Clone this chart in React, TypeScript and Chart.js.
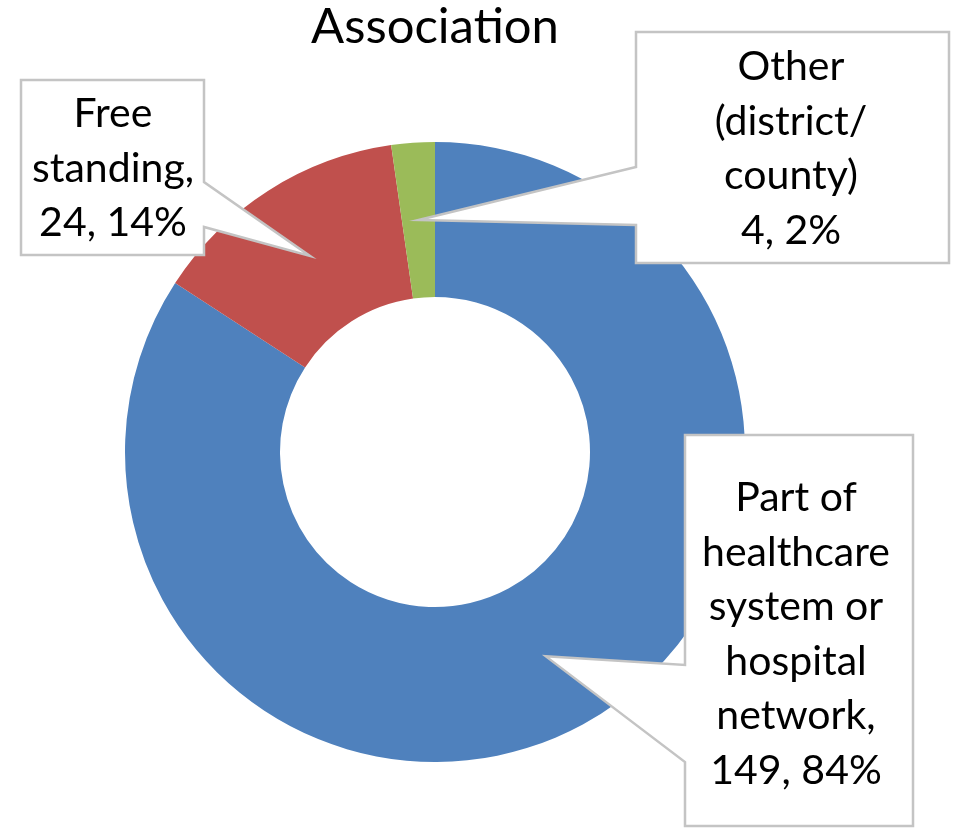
import React, { useEffect, useRef } from 'react';
import { Chart, registerables } from 'chart.js';

Chart.register(...registerables);

// ---- data ----
const titleText = 'Association';
const categories = [
  'Part of healthcare system or hospital network',
  'Free standing',
  'Other (district/ county)',
];
const counts = [149, 24, 4];
const colors = ['#4F81BD', '#C0504D', '#9BBB59'];
const categoryLines = [
  ['Part of', 'healthcare', 'system or', 'hospital', 'network,'],
  ['Free', 'standing,'],
  ['Other', '(district/', 'county)'],
];

// ---- layout of callout boxes (label placement, not data) ----
type Box = {
  x0: number; y0: number; x1: number; y1: number;
  side: 'left' | 'right'; b0: number; b1: number;
  cx: number; firstBaseline: number;
};
const calloutBoxes: Box[] = [
  { x0: 685, y0: 435, x1: 913, y1: 826, side: 'left', b0: 665, b1: 762, cx: 796, firstBaseline: 511 },
  { x0: 21, y0: 80, x1: 204, y1: 255, side: 'right', b0: 182, b1: 227, cx: 113, firstBaseline: 127 },
  { x0: 636, y0: 32, x1: 949, y1: 263, side: 'left', b0: 167, b1: 225, cx: 791, firstBaseline: 80 },
];
const FONT_FAMILY = 'Lato, "Open Sans", sans-serif';
const LABEL_SIZE = 41;
const LINE_HEIGHT = 54.5;
const TITLE_SIZE = 49;

const calloutPlugin = {
  id: 'callouts',
  afterDraw(chart: any) {
    const ctx: CanvasRenderingContext2D = chart.ctx;
    const meta = chart.getDatasetMeta(0);
    const total = counts.reduce((a, b) => a + b, 0);

    // title
    ctx.save();
    ctx.fillStyle = '#000';
    ctx.font = `${TITLE_SIZE}px ${FONT_FAMILY}`;
    ctx.textAlign = 'center';
    ctx.textBaseline = 'alphabetic';
    const ca = chart.chartArea;
    ctx.fillText(titleText, (ca.left + ca.right) / 2, 43);
    ctx.restore();

    meta.data.forEach((arc: any, i: number) => {
      const b = calloutBoxes[i];
      if (!b) return;
      const tip = arc.getCenterPoint();
      ctx.save();
      ctx.beginPath();
      ctx.moveTo(b.x0, b.y0);
      ctx.lineTo(b.x1, b.y0);
      if (b.side === 'right') {
        ctx.lineTo(b.x1, b.b0);
        ctx.lineTo(tip.x, tip.y);
        ctx.lineTo(b.x1, b.b1);
      }
      ctx.lineTo(b.x1, b.y1);
      ctx.lineTo(b.x0, b.y1);
      if (b.side === 'left') {
        ctx.lineTo(b.x0, b.b1);
        ctx.lineTo(tip.x, tip.y);
        ctx.lineTo(b.x0, b.b0);
      }
      ctx.closePath();
      ctx.fillStyle = '#FFFFFF';
      ctx.fill();
      ctx.strokeStyle = '#C4C4C4';
      ctx.lineWidth = 2.5;
      ctx.lineJoin = 'miter';
      ctx.stroke();

      const pct = Math.round((counts[i] / total) * 100);
      const lines = [...categoryLines[i], `${counts[i]}, ${pct}%`];
      ctx.fillStyle = '#000';
      ctx.font = `${LABEL_SIZE}px ${FONT_FAMILY}`;
      ctx.textAlign = 'center';
      ctx.textBaseline = 'alphabetic';
      lines.forEach((ln, k) => {
        ctx.fillText(ln, b.cx, b.firstBaseline + k * LINE_HEIGHT);
      });
      ctx.restore();
    });
  },
};

export default function App() {
  const ref = useRef<HTMLCanvasElement | null>(null);
  useEffect(() => {
    if (!ref.current) return;
    const chart = new Chart(ref.current, {
      type: 'doughnut',
      data: {
        labels: categories,
        datasets: [
          {
            data: counts,
            backgroundColor: colors,
            borderWidth: 0,
          },
        ],
      },
      options: {
        responsive: false,
        animation: false,
        events: [],
        cutout: '50%',
        layout: { padding: { left: 125, right: 210, top: 142, bottom: 66 } },
        plugins: {
          legend: { display: false },
          tooltip: { enabled: false },
          title: { display: false },
        },
      },
      plugins: [calloutPlugin],
    });
    return () => chart.destroy();
  }, []);
  return (
    <div style={{ position: 'absolute', left: 0, top: 0, width: 955, height: 828, background: '#fff' }}>
      <canvas ref={ref} width={955} height={828} style={{ width: 955, height: 828, display: 'block' }} />
    </div>
  );
}
